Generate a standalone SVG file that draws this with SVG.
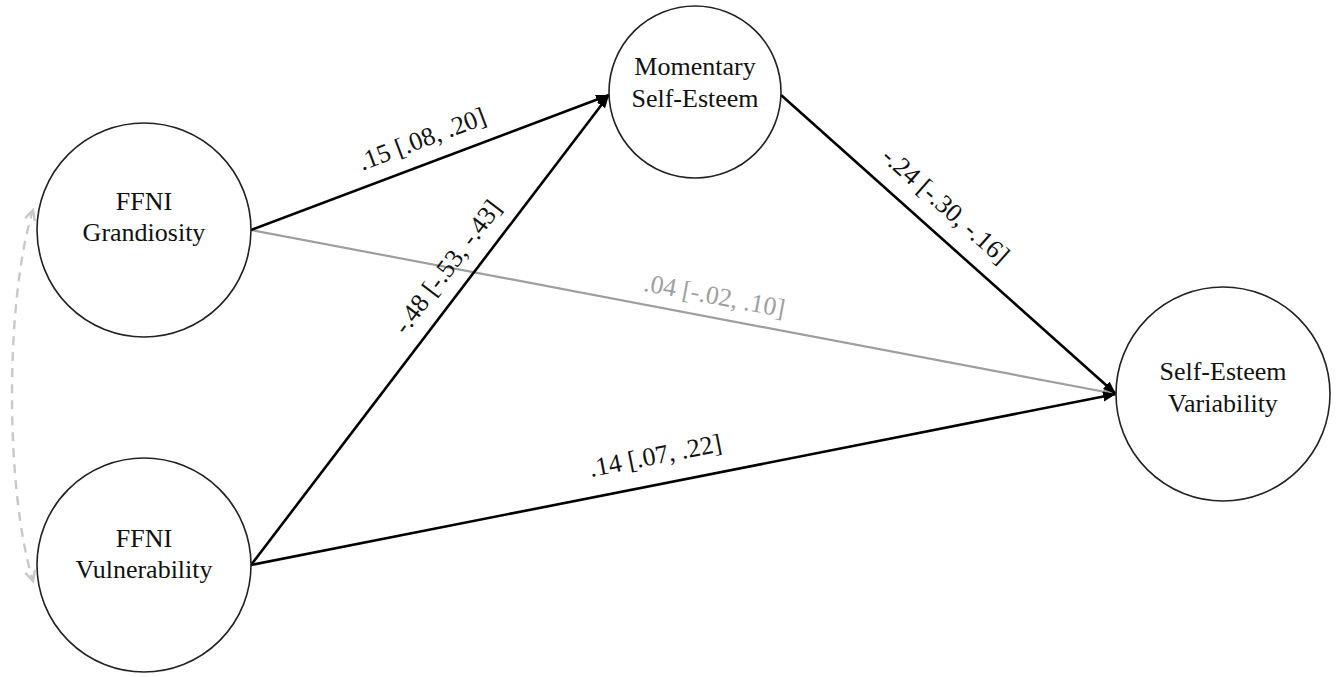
<svg xmlns="http://www.w3.org/2000/svg" width="1339" height="677" viewBox="0 0 1339 677">
<style>
.node{fill:#fff;stroke:#222;stroke-width:1.6}
.nt{font-family:"Liberation Serif","Times New Roman",serif;font-size:26px;fill:#111;text-anchor:middle}
.lbl{font-family:"Liberation Serif","Times New Roman",serif;font-size:26px;fill:#111;text-anchor:middle}
.edge{stroke:#000;stroke-width:2.6;fill:none}
.gedge{stroke:#9e9e9e;stroke-width:2.2;fill:none}
.cov{stroke:#c8c8c8;stroke-width:2.4;fill:none;stroke-dasharray:9 7}
</style>
<defs>
<marker id="ah" markerUnits="userSpaceOnUse" markerWidth="14" markerHeight="12" refX="13" refY="5" orient="auto"><path d="M0,0 L13,5 L0,10 z" fill="#000"/></marker>
<marker id="gh" markerUnits="userSpaceOnUse" markerWidth="14" markerHeight="12" refX="13" refY="5" orient="auto"><path d="M0,0 L13,5 L0,10 z" fill="#9e9e9e"/></marker>
<marker id="ch" markerUnits="userSpaceOnUse" markerWidth="14" markerHeight="14" refX="11" refY="6" orient="auto-start-reverse"><path d="M1,1 L11,6 L1,11" fill="none" stroke="#c8c8c8" stroke-width="2.4"/></marker>
</defs>
<g id="connectors">
<path class="cov" d="M33,210 C5,300 5,490 33,581" marker-start="url(#ch)" marker-end="url(#ch)"/>
<line class="gedge" x1="251" y1="230" x2="1116" y2="394" marker-end="url(#gh)"/>
<line class="edge" x1="251" y1="230" x2="609" y2="95" marker-end="url(#ah)"/>
<line class="edge" x1="251" y1="565" x2="609" y2="95" marker-end="url(#ah)"/>
<line class="edge" x1="251" y1="565" x2="1116" y2="394" marker-end="url(#ah)"/>
<line class="edge" x1="781" y1="95" x2="1116" y2="394" marker-end="url(#ah)"/>
<text class="lbl" transform="translate(425,147) rotate(-20.7)">.15 [.08, .20]</text>
<text class="lbl" transform="translate(454,272) rotate(-52.7)">-.48 [-.53, -.43]</text>
<text class="lbl" transform="translate(940,212) rotate(41.7)">-.24 [-.30, -.16]</text>
<text class="lbl" style="fill:#a0a0a0" transform="translate(713,304) rotate(10.7)">.04 [-.02, .10]</text>
<text class="lbl" transform="translate(657,464) rotate(-11.2)">.14 [.07, .22]</text>
</g>
<g id="node-grandiosity">
<circle class="node" cx="144" cy="230" r="107"/>
<text class="nt" x="144" y="210">FFNI</text>
<text class="nt" x="144" y="241">Grandiosity</text>
</g>
<g id="node-vulnerability">
<circle class="node" cx="144" cy="565" r="107"/>
<text class="nt" x="144" y="547">FFNI</text>
<text class="nt" x="144" y="578">Vulnerability</text>
</g>
<g id="node-momentary">
<circle class="node" cx="695" cy="92" r="86"/>
<text class="nt" x="695" y="75">Momentary</text>
<text class="nt" x="695" y="107">Self-Esteem</text>
</g>
<g id="node-variability">
<circle class="node" cx="1223" cy="394" r="107"/>
<text class="nt" x="1223" y="380">Self-Esteem</text>
<text class="nt" x="1223" y="412">Variability</text>
</g>
</svg>
